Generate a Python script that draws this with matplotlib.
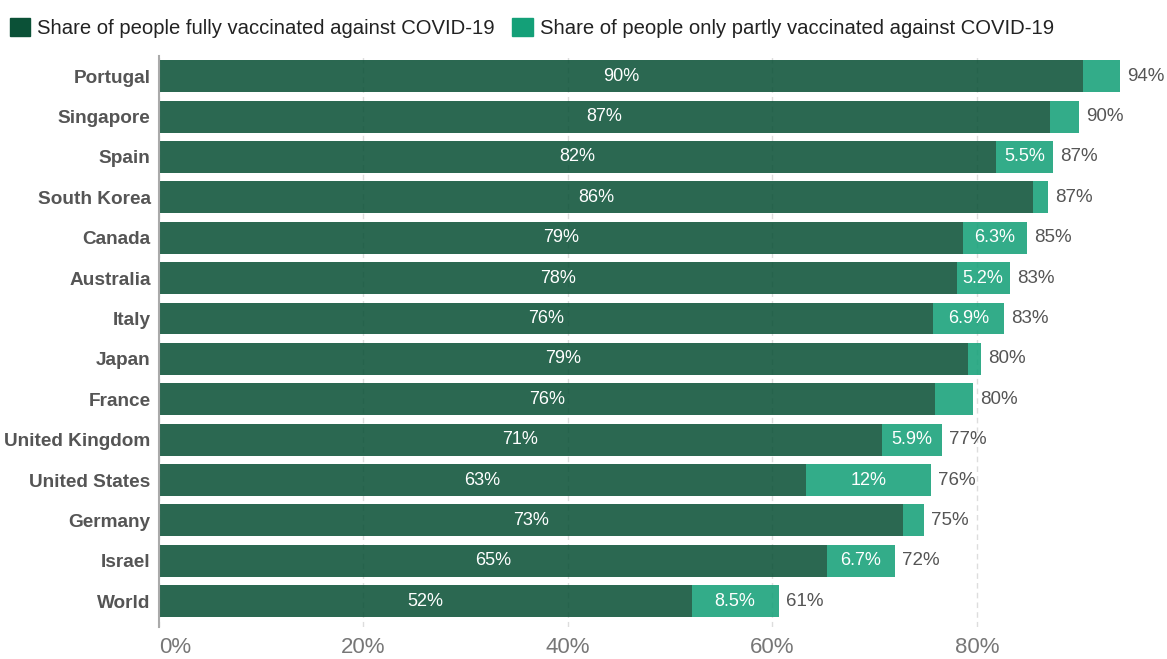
import matplotlib.pyplot as plt
from matplotlib.patches import Patch

plt.rcParams['font.family'] = ['Liberation Sans', 'DejaVu Sans']

countries = ["Portugal", "Singapore", "Spain", "South Korea", "Canada", "Australia", "Italy",
             "Japan", "France", "United Kingdom", "United States", "Germany", "Israel", "World"]
fully = [90.4, 87.1, 81.9, 85.5, 78.6, 78.0, 75.7, 79.1, 75.9, 70.7, 63.3, 72.8, 65.3, 52.1]
partly = [3.6, 2.9, 5.5, 1.4, 6.3, 5.2, 6.9, 1.3, 3.7, 5.9, 12.2, 2.0, 6.7, 8.5]

dark = "#0b5137"
light = "#14a078"

fig = plt.figure(figsize=(11.67, 6.59), dpi=100)
ax = fig.add_axes([159 / 1167, 1 - 627 / 659, 1002 / 1167, 571 / 659])

y = list(range(len(countries)))
ax.barh(y, fully, height=0.79, color=dark, alpha=0.87, zorder=2)
ax.barh(y, partly, left=fully, height=0.79, color=light, alpha=0.87, zorder=2)

for i in y:
    f = fully[i]
    p = partly[i]
    ax.text(f / 2, i, f"{f:.0f}%", color="white", ha="center", va="center", fontsize=13, zorder=3)
    if p >= 5:
        lab = f"{p:.0f}%" if p >= 10 else f"{p:.1f}%"
        ax.text(f + p / 2, i, lab, color="white", ha="center", va="center", fontsize=13, zorder=3)
    ax.text(f + p + 0.7, i, f"{f + p:.0f}%", color="#555555", ha="left", va="center", fontsize=13.5)

ax.set_xlim(0, 98)
ax.set_ylim(13.64, -0.5)
ax.set_yticks(y)
ax.set_yticklabels(countries, fontsize=13.7, fontweight="bold", color="#555555")
ax.set_xticks([0, 20, 40, 60, 80])
ax.set_xticklabels(["0%", "20%", "40%", "60%", "80%"], fontsize=16, color="#777777")
ax.get_xticklabels()[0].set_ha("left")
ax.tick_params(axis="both", length=0)
ax.tick_params(axis="x", pad=7)
ax.tick_params(axis="y", pad=6)
ax.grid(axis="x", color="#dddddd", linestyle=(0, (4, 3)), linewidth=1, zorder=1)
for s in ["top", "right", "bottom"]:
    ax.spines[s].set_visible(False)
ax.spines["left"].set_color("#aaaaaa")
ax.spines["left"].set_linewidth(1.5)

handles = [Patch(color=dark, label="Share of people fully vaccinated against COVID-19"),
           Patch(color=light, label="Share of people only partly vaccinated against COVID-19")]
fig.legend(handles=handles, loc="upper left", bbox_to_anchor=(-0.007, 1.0), ncol=2, frameon=False,
           fontsize=14.6, handlelength=1.0, handleheight=0.95, handletextpad=0.35, columnspacing=0.85,
           labelcolor="#222222")

fig.savefig("out.png", dpi=100)
